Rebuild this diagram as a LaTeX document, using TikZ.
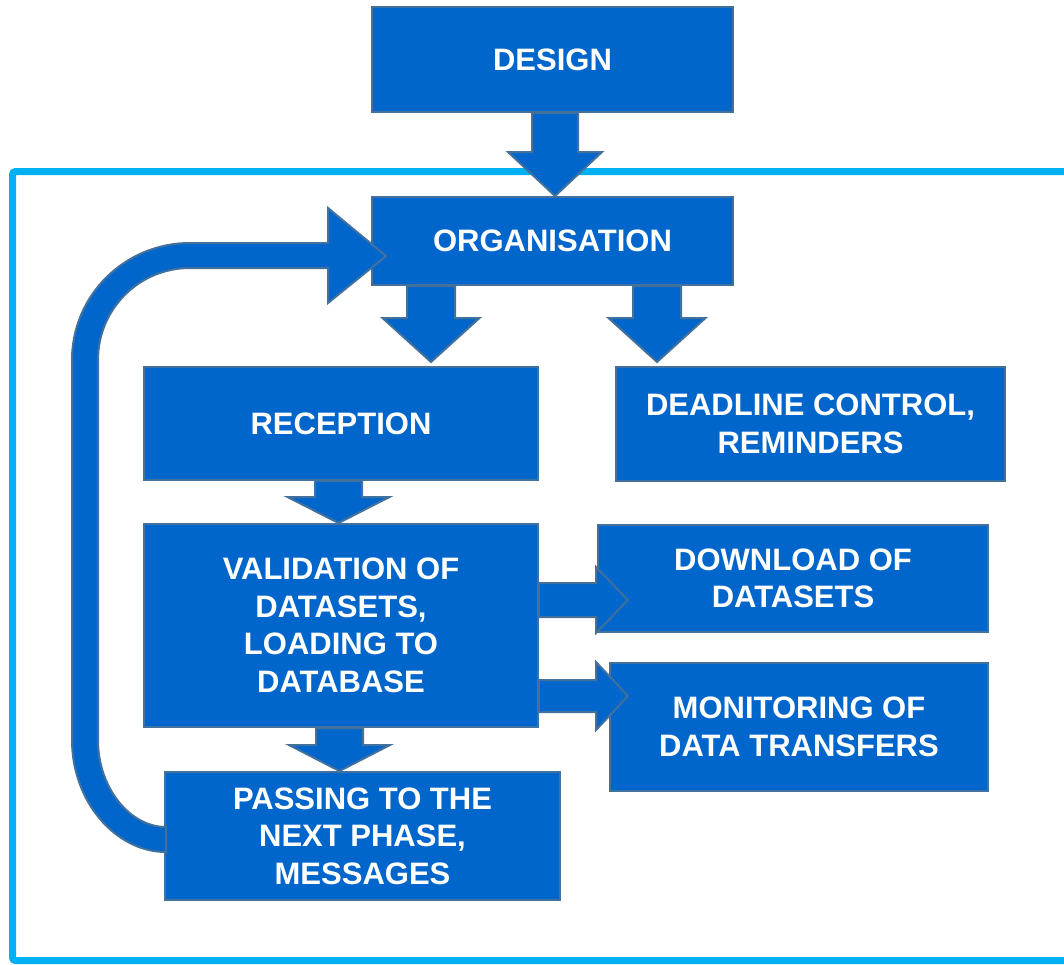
\documentclass[tikz,border=0pt]{standalone}
\usepackage{fontspec}
\setmainfont{Liberation Sans}
\usetikzlibrary{calc}
\definecolor{fillc}{HTML}{0066CC}
\definecolor{bordc}{HTML}{41719C}
\definecolor{framec}{HTML}{00B0F0}
\tikzset{
  box/.style={draw=bordc, fill=fillc, line width=2pt, text=white, align=center,
    inner sep=0pt, font=\fontsize{31}{37.5}\selectfont\bfseries},
  blk/.style={draw=bordc, fill=fillc, line width=2pt, line join=miter},
  frameline/.style={draw=framec, line width=7pt, rounded corners=3pt}
}
% down block arrow: src, tgt, x, shaft half, head half, head length, gap above target
\newcommand{\blkdown}[7]{%
  \draw[blk] let \p1=(#1.south), \p2=(#2.north), \p3=(#3,0) in
   (\x3-#4pt,\y1) -- (\x3+#4pt,\y1) -- (\x3+#4pt,\y2+#7pt+#6pt) -- (\x3+#5pt,\y2+#7pt+#6pt)
   -- (\x3,\y2+#7pt) -- (\x3-#5pt,\y2+#7pt+#6pt) -- (\x3-#4pt,\y2+#7pt+#6pt) -- cycle;}
% right block arrow: src, tgt, y, shaft half, head half, head length, overlap into target
\newcommand{\blkright}[7]{%
  \draw[blk] let \p1=(#1.east), \p2=(#2.west), \p3=(0,#3) in
   (\x1,\y3+#4pt) -- (\x2+#7pt-#6pt,\y3+#4pt) -- (\x2+#7pt-#6pt,\y3+#5pt) -- (\x2+#7pt,\y3)
   -- (\x2+#7pt-#6pt,\y3-#5pt) -- (\x2+#7pt-#6pt,\y3-#4pt) -- (\x1,\y3-#4pt) -- cycle;}
\begin{document}
\begin{tikzpicture}[x=1pt,y=-1pt]
\useasboundingbox (0,0) rectangle (1064,964);
% outer frame
\draw[frameline] (1080,960.5) -- (12.5,960.5) -- (12.5,171.5) -- (1080,171.5);
% boxes
\node[box, minimum width=361pt, minimum height=105pt] (design) at (552.5,59.5) {DESIGN};
\node[box, minimum width=361pt, minimum height=88pt] (org) at (552.5,241) {ORGANISATION};
\node[box, minimum width=394pt, minimum height=113pt] (rec) at (341,423.5) {RECEPTION};
\node[box, minimum width=389pt, minimum height=114pt] (dead) at (810.5,424) {DEADLINE CONTROL,\\REMINDERS};
\node[box, minimum width=394pt, minimum height=203pt] (val) at (341,625.5) {VALIDATION OF\\DATASETS,\\LOADING TO\\DATABASE};
\node[box, minimum width=390pt, minimum height=107pt] (down) at (793,578.5) {DOWNLOAD OF\\DATASETS};
\node[box, minimum width=378pt, minimum height=128pt] (mon) at (799,727) {MONITORING OF\\DATA TRANSFERS};
\node[box, minimum width=395pt, minimum height=128pt] (pass) at (362.5,836) {PASSING TO THE\\NEXT PHASE,\\MESSAGES};
% block arrows
\blkdown{design}{org}{555}{23}{47}{44}{0}
\blkdown{org}{rec}{431}{24}{48.5}{44}{4}
\blkdown{org}{dead}{657}{24}{48.5}{44}{4}
\blkdown{rec}{val}{338.5}{23.5}{51}{26}{0}
\blkdown{val}{pass}{339.5}{23.5}{50.5}{26}{0}
\blkright{val}{down}{600}{17}{33}{32}{31}
\blkright{val}{mon}{696}{16}{34}{32}{19}
% loop arrow from passing back to organisation
\draw[blk] (166,852) .. controls (116,852) and (72,802) .. (72,740) -- (72,360)
  .. controls (72,295) and (125,243) .. (190,243) -- (328,243) -- (328,208) -- (386,256)
  -- (328,303) -- (328,268) -- (190,268) .. controls (139,268) and (98,309) .. (98,360)
  -- (98,740) .. controls (98,788) and (130,827) .. (166,827) -- cycle;
\end{tikzpicture}
\end{document}
